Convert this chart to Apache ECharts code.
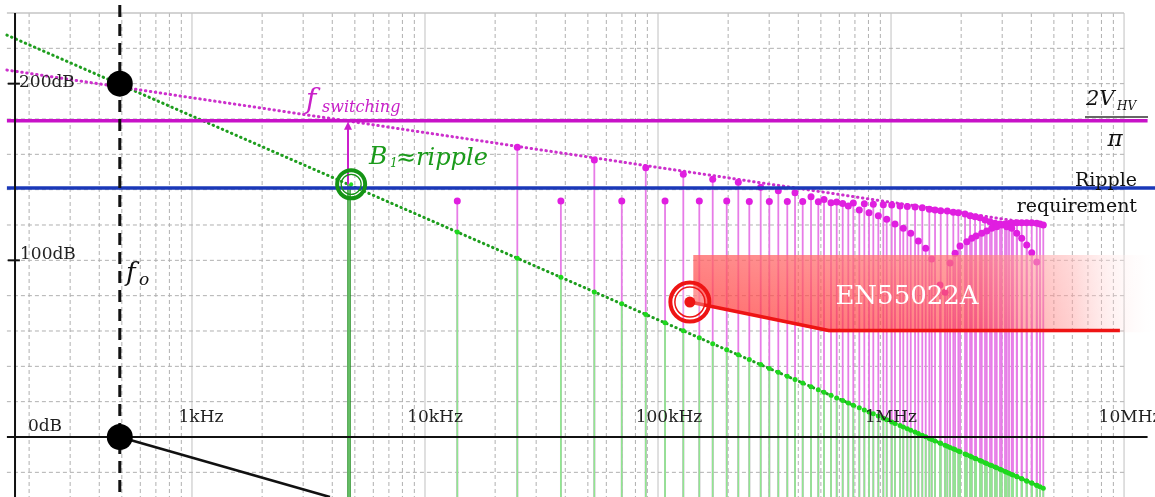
<!DOCTYPE html>
<html><head><meta charset="utf-8">
<script src="https://cdn.jsdelivr.net/npm/echarts@6/dist/echarts.min.js"></script>
<style>html,body{margin:0;padding:0;background:#fff;overflow:hidden}#c{width:1155px;height:497px}</style>
</head><body><div id="c"></div>
<script>
// ---- data (frequencies in kHz, levels in dB) ----
const xTickLabels = ['1kHz', '10kHz', '100kHz', '1MHz', '10MHz'];
const xTickFreqs = [1, 10, 100, 1000, 10000];
const gridDecades = [0.1, 1, 10, 100, 1000, 10000];
const gridMultipliers = [1, 2, 3, 4, 5, 6, 7, 8, 9];
const dbGridLevels = [-20, 20, 40, 60, 80, 100, 120, 140, 160, 180, 200, 220, 240];
const yTickLevels = [200, 100, 0];
const yTickLabels = ['200dB', '100dB', '0dB'];

const cornerFreq = 0.49;                 // f_o
const cornerDotsDb = [200, 0];
const lcSlope = [[0.49, 0], [3.91, -34]];
const switchingFreq = 4.72;
const fundamentalDb = 179;
const fundamentalFilteredDb = 143;
const rippleDb = 141;
const hvDb = 179;
const envelopeLine = [[0.1606, 207.7], [4503, 120.0]];
const filteredLine = [[0.1606, 227.5], [4503, -29.0]];

const oddFreq = [24.9, 53.3, 88.6, 128.4, 171.7, 221.1, 275.9, 328.3, 387.3, 453.6, 515.7, 584.7, 688.9, 768.1, 839.5, 926.8, 1007, 1093, 1175, 1268, 1362, 1460, 1545, 1634, 1744, 1851, 1945, 2078, 2184, 2294, 2410, 2532, 2660, 2795, 2937, 3085, 3209, 3338, 3473, 3638, 3822, 4017, 4221, 4360, 4503];
const oddDb = [164.0, 156.8, 152.4, 148.7, 145.9, 144.2, 141.3, 139.4, 138.3, 136.0, 134.5, 133.0, 132.5, 132.0, 131.8, 131.5, 131.3, 130.8, 130.4, 130.2, 129.8, 128.9, 128.5, 128.1, 127.9, 127.2, 127.0, 126.2, 125.3, 124.7, 124.1, 122.8, 121.9, 121.0, 120.6, 120.6, 120.8, 121.0, 121.2, 121.3, 121.3, 121.3, 121.0, 120.6, 120.0];
const oddFilteredDb = [101.2, 82.1, 69.4, 60.1, 52.8, 46.5, 41.0, 36.6, 32.5, 28.5, 25.3, 22.1, 18.0, 15.3, 13.1, 10.6, 8.5, 6.5, 4.7, 2.8, 1.0, -0.8, -2.2, -3.6, -5.2, -6.7, -7.9, -9.6, -10.8, -12.1, -13.3, -14.6, -15.8, -17.0, -18.3, -19.5, -20.5, -21.5, -22.5, -23.6, -24.9, -26.1, -27.3, -28.2, -29.0];

const midFreq = [13.76, 38.3, 69.9, 107.2, 150.4, 197.2, 246.5, 300.4, 358.8, 417.8, 487.5, 552.6, 620.3, 655.6, 731.0, 804.6, 882.1, 958.4, 1040, 1129, 1215, 1310, 1409, 1495, 1623, 1705, 1792, 1883, 1978, 2114, 2221, 2317, 2451, 2575, 2705, 2842, 2987, 3138, 3296, 3463, 3638, 3822, 4017, 4221];
const midDb = [133.6, 133.6, 133.6, 133.6, 133.6, 133.6, 133.3, 133.3, 133.3, 133.3, 133.2, 132.6, 132.2, 130.8, 128.5, 127.0, 125.3, 123.2, 120.6, 118.1, 115.3, 110.9, 106.8, 100.8, 86.0, 82.0, 98.5, 104.0, 108.1, 110.5, 112.5, 113.8, 115.3, 116.6, 118.1, 119.0, 120.0, 119.0, 118.1, 115.3, 112.5, 108.7, 104.3, 99.1];
const midFilteredDb = [116.1, 90.4, 75.4, 64.6, 56.2, 49.4, 43.8, 38.8, 34.4, 30.6, 26.7, 23.6, 20.7, 19.3, 16.6, 14.2, 11.9, 9.8, 7.7, 5.7, 3.8, 2.0, 0.1, -1.4, -3.4, -4.7, -5.9, -7.1, -8.4, -10.0, -11.3, -12.3, -13.7, -15.0, -16.2, -17.4, -18.7, -19.9, -21.2, -22.4, -23.6, -24.9, -26.1, -27.3];

const limitFreq = [137, 540, 9600];
const limitDb = [76.4, 60.3, 60.3];
const limitBoxTopDb = 103;
const limitBoxStartFreq = 141.8;

// ---- axes extents ----
const X_MIN = 0.15, X_MAX = 13580, Y_MIN = -33.96, Y_MAX = 247.35;
const GRID_L = 0.1606, GRID_R = 10000;

const gridFreqs = [];
gridDecades.forEach(d => gridMultipliers.forEach(m => {
  const f = +(m * d).toPrecision(6);
  if (f > 0.16 && f <= GRID_R * 1.0001) gridFreqs.push(f);
}));
const isDecade = f => Math.abs(Math.log10(f) - Math.round(Math.log10(f))) < 1e-6;

function vLine(color, width, dash, topDb) {
  return function (params, api) {
    const a = api.coord([api.value(0), topDb]);
    const b = api.coord([api.value(0), Y_MIN]);
    return { type: 'line', shape: { x1: a[0], y1: a[1], x2: b[0], y2: b[1] },
      style: { stroke: color, lineWidth: width, lineDash: dash } };
  };
}
function stem(color, width) {
  return function (params, api) {
    const a = api.coord([api.value(0), api.value(1)]);
    const b = api.coord([api.value(0), Y_MIN]);
    return { type: 'line', shape: { x1: a[0], y1: a[1], x2: b[0], y2: b[1] },
      style: { stroke: color, lineWidth: width } };
  };
}
const pairs = (xs, ys) => xs.map((x, i) => [x, ys[i]]);

const chart = echarts.init(document.getElementById('c'), null, { renderer: 'canvas' });
const serif = '"DejaVu Serif", "Liberation Serif", serif';
const solid = c => ({ color: c, opacity: 1 });

const series = [
  // grid: minor vertical
  { type: 'custom', z: 0, silent: true, data: gridFreqs.filter(f => !isDecade(f)).map(f => [f, 0]),
    renderItem: vLine('#b0b0b0', 1, [4, 3], 240) },
  { type: 'custom', z: 0, silent: true, data: gridFreqs.filter(f => isDecade(f)).map(f => [f, 0]),
    renderItem: vLine('#c0c0c0', 1, null, 240) },
  // grid: horizontal
  { type: 'custom', z: 0, silent: true, data: dbGridLevels.map(v => [1, v]),
    renderItem: function (p, api) {
      const v = api.value(1);
      const a = api.coord([GRID_L, v]), b = api.coord([GRID_R, v]);
      return { type: 'line', shape: { x1: a[0], y1: a[1], x2: b[0], y2: b[1] },
        style: { stroke: v === 240 ? '#c4c4c4' : '#b0b0b0', lineWidth: v === 240 ? 1.5 : 1, lineDash: v === 240 ? null : [4, 3] } };
    } },
  // magenta stems
  { type: 'custom', z: 1, silent: true, data: pairs(oddFreq, oddDb).concat(pairs(midFreq, midDb)),
    renderItem: stem('#e77ce7', 1.8) },
  // green stems
  { type: 'custom', z: 2, silent: true, data: pairs(oddFreq, oddFilteredDb).concat(pairs(midFreq, midFilteredDb)),
    renderItem: stem('#8fe88f', 1.8) },
  // filtered spectrum line (green dotted)
  { type: 'line', z: 3, silent: true, symbol: 'none', data: filteredLine,
    lineStyle: { color: '#1f9e1f', width: 3, type: [0.5, 4.5], cap: 'round' } },
  // envelope (magenta dotted)
  { type: 'line', z: 3, silent: true, symbol: 'none', data: envelopeLine,
    lineStyle: { color: '#cc30cc', width: 3, type: [0.5, 4.5], cap: 'round' } },
  // green dots
  { type: 'scatter', z: 4, silent: true, symbolSize: 5, itemStyle: solid('#1ed81e'),
    data: pairs(oddFreq, oddFilteredDb).concat(pairs(midFreq, midFilteredDb)) },
  // magenta dots
  { type: 'scatter', z: 4, silent: true, symbolSize: 7, itemStyle: solid('#e01ee0'),
    data: pairs(oddFreq, oddDb).concat(pairs(midFreq, midDb)) },
  // fundamental green stem
  { type: 'line', z: 5, silent: true, symbol: 'none', data: [[switchingFreq, fundamentalFilteredDb], [switchingFreq, Y_MIN]],
    lineStyle: { color: '#248f24', width: 3.5 } },
  { type: 'line', z: 5, silent: true, symbol: 'none', data: [[switchingFreq, fundamentalFilteredDb], [switchingFreq, Y_MIN]],
    lineStyle: { color: '#a6eaa6', width: 1 } },
  // fundamental magenta arrow
  { type: 'custom', z: 6, silent: true, data: [[switchingFreq, fundamentalFilteredDb, fundamentalDb]],
    renderItem: function (p, api) {
      const a = api.coord([api.value(0), api.value(1)]);
      const b = api.coord([api.value(0), api.value(2)]);
      return { type: 'group', children: [
        { type: 'line', shape: { x1: a[0] - 1, y1: a[1], x2: b[0] - 1, y2: b[1] + 6 }, style: { stroke: '#cc1fcc', lineWidth: 2 } },
        { type: 'polygon', shape: { points: [[b[0] - 1, b[1] + 1], [b[0] - 5, b[1] + 9], [b[0] + 3, b[1] + 9]] }, style: { fill: '#cc1fcc' } }
      ] };
    } },
  // EN55022A box
  { type: 'custom', z: 7, silent: true, data: [[limitFreq[0], limitDb[0]]],
    renderItem: function (p, api) {
      const pts = [
        api.coord([limitBoxStartFreq, limitBoxTopDb]),
        api.coord([X_MAX, limitBoxTopDb]),
        api.coord([X_MAX, limitDb[2] - 1]),
        api.coord([limitFreq[1], limitDb[1] - 1]),
        api.coord([limitBoxStartFreq, limitDb[0] - 0.5])
      ];
      return { type: 'group', children: [
        { type: 'polygon', shape: { points: pts }, style: { fill: new echarts.graphic.LinearGradient(0, 0, 1, 0, [
          { offset: 0, color: 'rgba(255,45,45,0.72)' },
          { offset: 0.62, color: 'rgba(255,60,60,0.6)' },
          { offset: 0.82, color: 'rgba(255,140,140,0.42)' },
          { offset: 1, color: 'rgba(255,255,255,0.05)' }]) } },
        { type: 'polygon', shape: { points: pts }, style: { fill: new echarts.graphic.LinearGradient(0, 0, 0, 1, [
          { offset: 0, color: 'rgba(255,255,255,0.22)' },
          { offset: 1, color: 'rgba(255,255,255,0)' }]) } }
      ] };
    } },
  // limit line
  { type: 'line', z: 8, silent: true, symbol: 'none', data: pairs(limitFreq, limitDb),
    lineStyle: { color: '#ee1414', width: 3.5 } },
  // red marker
  { type: 'scatter', z: 9, silent: true, data: [[limitFreq[0], limitDb[0]]], symbolSize: 39,
    itemStyle: { color: 'rgba(0,0,0,0)', borderColor: '#ee1414', borderWidth: 4, opacity: 1 } },
  { type: 'scatter', z: 9, silent: true, data: [[limitFreq[0], limitDb[0]]], symbolSize: 30,
    itemStyle: { color: 'rgba(255,255,255,0.25)', borderColor: '#ee1414', borderWidth: 1.5, opacity: 1 } },
  { type: 'scatter', z: 9, silent: true, data: [[limitFreq[0], limitDb[0]]], symbolSize: 11,
    itemStyle: solid('#ee1414') },
  // horizontal reference lines
  { type: 'line', z: 10, silent: true, symbol: 'none', data: [[GRID_L, rippleDb], [X_MAX, rippleDb]],
    lineStyle: { color: '#1a38b8', width: 3.5 } },
  { type: 'line', z: 10, silent: true, symbol: 'none', data: [[GRID_L, hvDb], [12620, hvDb]],
    lineStyle: { color: '#c812c8', width: 3.5 } },
  // B1 marker
  { type: 'scatter', z: 11, silent: true, data: [[4.82, 143]], symbolSize: 28,
    itemStyle: { color: 'rgba(0,0,0,0)', borderColor: '#159415', borderWidth: 4, opacity: 1 } },
  { type: 'scatter', z: 11, silent: true, data: [[4.82, 143]], symbolSize: 20,
    itemStyle: { color: 'rgba(0,0,0,0)', borderColor: '#159415', borderWidth: 1.3, opacity: 1 } },
  { type: 'scatter', z: 11, silent: true, data: [[4.82, 143]], symbolSize: 4,
    itemStyle: solid('#22dd22') },
  // axes
  { type: 'line', z: 12, silent: true, symbol: 'none', data: [[0.174, 240], [0.174, Y_MIN]],
    lineStyle: { color: '#111', width: 2 } },
  { type: 'line', z: 12, silent: true, symbol: 'none', data: [[GRID_L, 0], [12620, 0]],
    lineStyle: { color: '#111', width: 2 } },
  { type: 'custom', z: 12, silent: true, data: yTickLevels.filter(v => v !== 0).map(v => [0.174, v]),
    renderItem: function (p, api) {
      const a = api.coord([0.162, api.value(1)]), b = api.coord([0.1826, api.value(1)]);
      return { type: 'line', shape: { x1: a[0], y1: a[1], x2: b[0], y2: b[1] }, style: { stroke: '#111', lineWidth: 2 } };
    } },
  // f_o dashed
  { type: 'line', z: 12, silent: true, symbol: 'none', data: [[cornerFreq, 244.5], [cornerFreq, Y_MIN]],
    lineStyle: { color: '#111', width: 3, type: [12, 7] } },
  // -40 dB/dec slope
  { type: 'line', z: 12, silent: true, symbol: 'none', data: lcSlope,
    lineStyle: { color: '#111', width: 2.5 } },
  // corner dots
  { type: 'scatter', z: 13, silent: true, symbolSize: 26, itemStyle: solid('#000'),
    data: cornerDotsDb.map(v => [cornerFreq, v]) }
];

const txt = (x, y, text, font, fill, align, valign) => ({
  type: 'text', x: x, y: y, z: 100, silent: true,
  style: { text: text, font: font, fill: fill, align: align || 'left', textAlign: align || 'left',
    verticalAlign: valign || 'middle', textVerticalAlign: valign || 'middle' }
});
const labelFont = '17px ' + serif;
const xLabelPos = [201, 435, 669, 891, 1130];
const yLabelPos = [[19, 83, 'left'], [20, 255, 'left'], [45, 427, 'center']];
const graphics = [];
xTickLabels.forEach((t, i) => graphics.push(txt(xLabelPos[i], 418, t, labelFont, '#222', 'center')));
yTickLabels.forEach((t, i) => graphics.push(txt(yLabelPos[i][0], yLabelPos[i][1], t, labelFont, '#222', yLabelPos[i][2])));
const it = 'italic ';
graphics.push(
  txt(306, 101, 'f', it + '28px ' + serif, '#c820c8'),
  txt(322, 108, 'switching', it + '16px ' + serif, '#c820c8'),
  txt(369, 157, 'B', it + '25px ' + serif, '#1a9a1a'),
  txt(390, 164, '1', it + '12px ' + serif, '#1a9a1a'),
  txt(396, 159, '\u2248ripple', it + '24px ' + serif, '#1a9a1a'),
  txt(126, 274, 'f', it + '26px ' + serif, '#111'),
  txt(139, 281, 'o', it + '17px ' + serif, '#111'),
  txt(1086, 100, '2V', it + '21px ' + serif, '#111'),
  txt(1117, 107, 'HV', it + '12px ' + serif, '#111'),
  txt(1115, 140, '\u03c0', it + '23px ' + serif, '#111', 'center'),
  txt(1137, 181, 'Ripple', '19px ' + serif, '#111', 'right'),
  txt(1137, 207, 'requirement', '19px ' + serif, '#111', 'right'),
  txt(907, 297, 'EN55022A', '26px ' + serif, '#ffffff', 'center'),
  { type: 'line', z: 100, silent: true, shape: { x1: 1085, y1: 117, x2: 1148, y2: 117 }, style: { stroke: '#333', lineWidth: 1.5 } }
);

chart.setOption({
  animation: false,
  backgroundColor: '#ffffff',
  grid: { left: 0, right: 0, top: 0, bottom: 0, containLabel: false },
  xAxis: { type: 'log', logBase: 10, min: X_MIN, max: X_MAX, show: false, splitLine: { show: false } },
  yAxis: { type: 'value', min: Y_MIN, max: Y_MAX, show: false, splitLine: { show: false } },
  series: series,
  graphic: graphics
});
</script></body></html>
